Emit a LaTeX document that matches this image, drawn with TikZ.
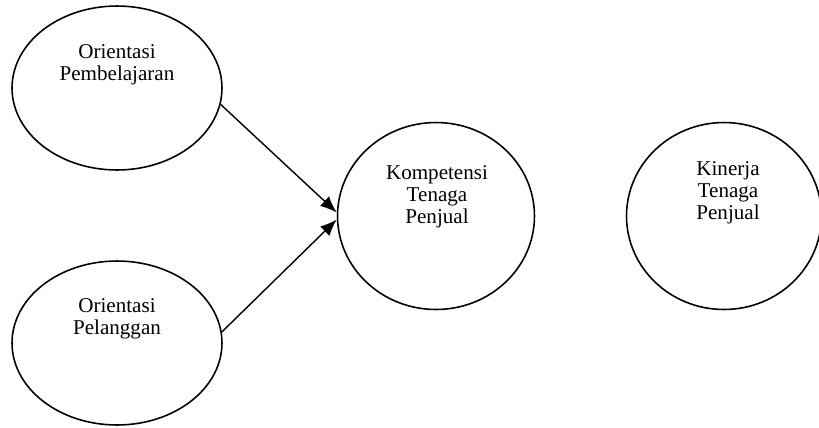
\documentclass[tikz,border=0pt]{standalone}
\usepackage{fontspec}
\setmainfont{Liberation Serif}
\usepackage{tikz}
\usetikzlibrary{positioning, arrows.meta, shapes.geometric}
\tikzset{
  variabel/.style={ellipse, draw, line width=0.9pt, inner sep=0pt},
  teks/.style={anchor=north, align=center, inner sep=0pt, font=\fontsize{12}{12.5}\selectfont},
  panah/.style={-{Latex[length=9.5pt, width=7.5pt]}, line width=0.8pt}
}
\begin{document}
\begin{tikzpicture}[x=0.02cm, y=-0.02cm]
  \useasboundingbox (0,0) rectangle (819,427);
  % orientasi -> kompetensi, kinerja tanpa panah
  \node[variabel, minimum width=4.2cm, minimum height=3.28cm] (belajar) at (117,88) {};
  \node[variabel, minimum width=4.2cm, minimum height=3.28cm] (pelanggan) at (117,343) {};
  \node[variabel, minimum width=3.94cm, minimum height=3.74cm] (kompetensi) at (436,216) {};
  \node[variabel, minimum width=3.9cm, minimum height=3.74cm] (kinerja) at (724,216) {};
  \node[teks] (belajar-t) at (117,44.5) {Orientasi\\Pembelajaran};
  \node[teks] (pelanggan-t) at (117,298.5) {Orientasi\\Pelanggan};
  \node[teks] (kompetensi-t) at (437,165.5) {Kompetensi\\Tenaga\\Penjual};
  \node[teks] (kinerja-t) at (728,161) {Kinerja\\Tenaga\\Penjual};
  \draw[panah] (belajar.-9) -- (kompetensi.178);
  \draw[panah] (pelanggan.6) -- (kompetensi.182);
\end{tikzpicture}
\end{document}
